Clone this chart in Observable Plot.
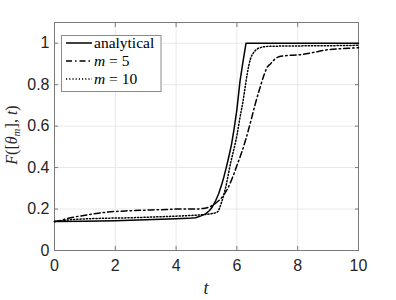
<!DOCTYPE html>
<html>
<head>
<meta charset="utf-8">
<script src="https://cdn.jsdelivr.net/npm/d3@7"></script>
<script src="https://cdn.jsdelivr.net/npm/@observablehq/plot@0.6"></script>
<style>
  html, body { margin: 0; padding: 0; background: #fff; }
  #chart { width: 396px; height: 300px; }
</style>
</head>
<body>
<div id="chart"></div>
<script>
// ---- data ----
const xTicks = [0, 2, 4, 6, 8, 10];
const yTicks = [0, 0.2, 0.4, 0.6, 0.8, 1];
const yTickLabels = ["0", "0.2", "0.4", "0.6", "0.8", "1"];

const tAnalytical = [0, 1, 2, 3, 4, 4.4, 4.64, 4.8, 4.97, 5.1, 5.19, 5.3, 5.4, 5.5, 5.57, 5.65, 5.73, 5.82, 5.9, 6.0, 6.1, 6.2, 6.3, 7, 8, 9, 10];
const fAnalytical = [0.14, 0.141, 0.143, 0.148, 0.153, 0.155, 0.158, 0.166, 0.177, 0.193, 0.21, 0.24, 0.274, 0.318, 0.354, 0.40, 0.45, 0.51, 0.58, 0.68, 0.815, 0.91, 1.0, 1, 1, 1, 1];

const tM5 = [0, 0.25, 0.53, 0.96, 1.3, 1.73, 2.5, 3.49, 4.14, 4.6, 4.9, 5.1, 5.3, 5.5, 5.7, 5.85, 6.0, 6.15, 6.3, 6.45, 6.6, 6.78, 6.9, 7.0, 7.1, 7.21, 7.38, 7.6, 8.1, 8.5, 8.97, 9.5, 10];
const fM5 = [0.14, 0.147, 0.158, 0.169, 0.177, 0.185, 0.192, 0.197, 0.2, 0.2, 0.203, 0.21, 0.228, 0.255, 0.3, 0.35, 0.41, 0.47, 0.54, 0.62, 0.705, 0.795, 0.85, 0.885, 0.9, 0.918, 0.935, 0.94, 0.945, 0.955, 0.968, 0.974, 0.978];

const tM10 = [0, 0.2, 0.42, 0.95, 1.5, 2.5, 3.5, 4.2, 4.8, 5.1, 5.35, 5.5, 5.62, 5.79, 5.95, 6.0, 6.1, 6.2, 6.28, 6.34, 6.45, 6.55, 6.67, 6.8, 7.05, 8, 9, 10];
const fM10 = [0.14, 0.142, 0.147, 0.152, 0.155, 0.158, 0.163, 0.167, 0.172, 0.176, 0.185, 0.235, 0.298, 0.42, 0.52, 0.555, 0.64, 0.72, 0.797, 0.853, 0.926, 0.955, 0.972, 0.98, 0.985, 0.987, 0.988, 0.99];

const seriesNames = ["analytical", "m = 5", "m = 10"];

// ---- build tables ----
const zip = (ts, fs) => ts.map((t, i) => ({t, f: fs[i]}));
const dA = zip(tAnalytical, fAnalytical);
const d5 = zip(tM5, fM5);
const d10 = zip(tM10, fM10);

const axisColor = "#262626";
const boxColor = "#7a7a7a";
const gridColor = "#e8e8e8";
const tickFont = "'Liberation Sans', Arial, Helvetica, sans-serif";
const dashDot = "6,3,1.5,3";
const dotted = "1.2,2";

const plot = Plot.plot({
  width: 396,
  height: 300,
  marginLeft: 54,
  marginRight: 38,
  marginTop: 22,
  marginBottom: 50,
  style: {fontFamily: tickFont, background: "#fff", overflow: "visible"},
  x: {domain: [0, 10]},
  y: {domain: [0, 1.1]},
  marks: [
    Plot.gridX(xTicks, {stroke: gridColor, strokeOpacity: 1}),
    Plot.gridY(yTicks, {stroke: gridColor, strokeOpacity: 1}),
    Plot.frame({stroke: boxColor, strokeWidth: 1}),
    Plot.axisX(xTicks, {anchor: "bottom", tickSize: -4, tickPadding: 13, stroke: boxColor, fill: axisColor, fontSize: 16, label: null}),
    Plot.axisX(xTicks, {anchor: "top", tickSize: -4, text: null, stroke: boxColor, label: null}),
    Plot.axisY(yTicks, {anchor: "left", tickSize: -4, tickPadding: 9, stroke: boxColor, fill: axisColor, fontSize: 16, label: null, tickFormat: (d, i) => yTickLabels[i]}),
    Plot.axisY(yTicks, {anchor: "right", tickSize: -4, text: null, stroke: boxColor, label: null}),
    Plot.line(dA, {x: "t", y: "f", stroke: "#000", strokeWidth: 1.5, curve: "linear"}),
    Plot.line(d5, {x: "t", y: "f", stroke: "#000", strokeWidth: 1.5, strokeDasharray: dashDot, curve: "monotone-x"}),
    Plot.line(d10, {x: "t", y: "f", stroke: "#000", strokeWidth: 1.5, strokeDasharray: dotted, curve: "monotone-x"})
  ]
});

document.getElementById("chart").appendChild(plot);

// ---- axis labels and legend (SVG text) ----
const svg = d3.select(plot);
const serif = "'Liberation Serif', 'Times New Roman', serif";

// x label
svg.append("text")
  .attr("x", 206).attr("y", 294)
  .attr("text-anchor", "middle")
  .attr("font-family", serif).attr("font-size", 18).attr("font-style", "italic")
  .attr("fill", axisColor)
  .text("t");

// y label
const yl = svg.append("text")
  .attr("transform", "translate(17,135) rotate(-90)")
  .attr("text-anchor", "middle")
  .attr("font-family", serif).attr("font-size", 16)
  .attr("fill", axisColor);
yl.append("tspan").attr("font-style", "italic").text("F");
yl.append("tspan").text("([");
yl.append("tspan").attr("font-style", "italic").text("θ");
yl.append("tspan").attr("font-style", "italic").attr("font-size", 11).attr("dy", 3).text("m");
yl.append("tspan").attr("dy", -3).text("], ");
yl.append("tspan").attr("font-style", "italic").text("t");
yl.append("tspan").text(")");

// legend
const lg = svg.append("g").attr("text-anchor", "start");
lg.append("rect")
  .attr("x", 61.5).attr("y", 35.5).attr("width", 99.5).attr("height", 56)
  .attr("fill", "#fff").attr("stroke", "#8a8a8a").attr("stroke-width", 1);
const dashes = [null, dashDot, dotted];
const rowsY = [43, 61, 79];
seriesNames.forEach((name, i) => {
  lg.append("line")
    .attr("x1", 66).attr("x2", 92).attr("y1", rowsY[i]).attr("y2", rowsY[i])
    .attr("stroke", "#000").attr("stroke-width", 1.5)
    .attr("stroke-dasharray", dashes[i]);
  const tx = lg.append("text")
    .attr("x", 94).attr("y", rowsY[i] + 4.5)
    .attr("text-anchor", "start")
    .attr("font-family", serif).attr("font-size", 15.5)
    .attr("fill", "#000");
  if (i === 0) {
    tx.text(name);
  } else {
    const parts = name.split(" = ");
    tx.append("tspan").attr("font-style", "italic").text(parts[0]);
    tx.append("tspan").text(" = " + parts[1]);
  }
});
</script>
</body>
</html>
